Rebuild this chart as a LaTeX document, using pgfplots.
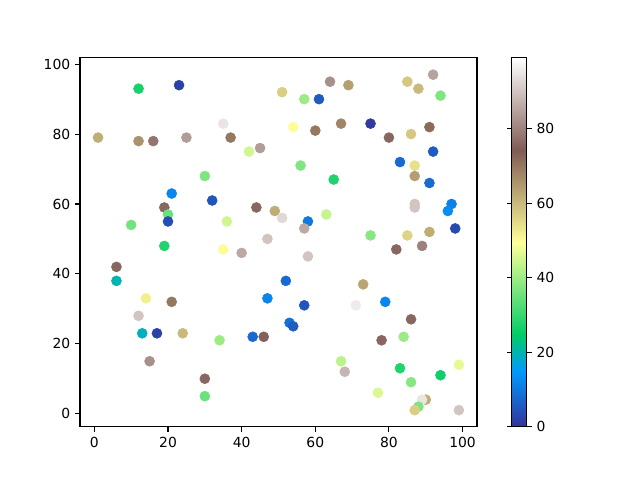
\documentclass[border=0pt]{standalone}
\usepackage{pgfplots}
\pgfplotsset{compat=1.18}
\usepackage{pgfplotstable}
\usepackage{fontspec}
\setmainfont{DejaVu Sans}
\pgfplotstableread{
x y c
1 79 62
12 93 27
23 94 2
12 78 66
16 78 78
25 79 84
35 83 95
37 79 70
42 75 45
45 76 84
30 68 37
51 92 57
57 90 40
61 90 6
64 95 82
69 94 64
54 82 50
60 81 70
67 83 68
75 83 1
80 79 76
85 95 58
88 93 60
92 97 85
94 91 37
86 80 58
91 82 72
92 75 6
83 72 8
87 71 54
87 68 64
91 66 8
56 71 37
65 67 28
21 63 12
32 61 5
19 59 76
20 57 35
20 55 4
10 54 36
44 59 76
49 58 62
51 56 93
36 55 45
19 48 28
47 50 90
35 47 50
40 46 86
6 42 76
6 38 20
14 33 52
21 32 70
47 33 12
58 55 10
57 53 86
63 57 44
58 45 90
87 60 90
87 59 90
97 60 11
96 58 13
98 53 3
75 51 38
85 51 56
91 52 62
82 47 76
89 48 80
52 38 8
73 37 63
57 31 5
71 31 96
79 32 12
12 28 90
13 23 19
17 23 2
24 23 60
34 21 40
43 22 8
46 22 75
15 15 82
30 10 76
30 5 35
53 26 9
54 25 6
86 27 76
78 21 76
84 22 40
67 15 43
68 12 88
83 13 28
94 11 26
99 14 47
86 9 38
77 6 46
90 4 62
89 4 95
88 2 37
87 1 57
99 1 90
}\datatable
\begin{document}
\begin{tikzpicture}
\useasboundingbox (0,0) rectangle (460.8pt,345.6pt);
\begin{axis}[
  at={(57.6pt,38.2pt)}, anchor=south west,
  width=285.8pt, height=265.7pt, scale only axis,
  xmin=-3.9, xmax=103.9, ymin=-3.8, ymax=101.8,
  xtick={0,20,...,100}, ytick={0,20,...,100},
  xtick pos=bottom, ytick pos=left,
  tick align=outside, major tick length=3.5pt,
  axis line style={line width=0.8pt}, tick style={line width=0.8pt, black},
  /pgf/number format/assume math mode=true,
  tick label style={font=\fontsize{10}{12}\selectfont},
  colormap={terrain}{rgb(0cm)=(0.2,0.2,0.6); rgb(15cm)=(0,0.6,1); rgb(25cm)=(0,0.8,0.4); rgb(50cm)=(1,1,0.6); rgb(75cm)=(0.5,0.36,0.33); rgb(100cm)=(1,1,1)},
  point meta min=0, point meta max=99,
  colorbar,
  colorbar style={
    at={(parent axis.north east)}, anchor=north west, xshift=16.6pt,
    width=10.8pt, height=265.7pt, scale only axis,
    ytick={0,20,...,80}, tick align=outside, major tick length=3.5pt,
    axis line style={line width=0.8pt}, tick style={line width=0.8pt, black},
    yticklabel style={font=\fontsize{10}{12}\selectfont},
    /pgf/number format/assume math mode=true,
  },
]
\addplot[scatter, only marks, mark=*, mark size=3.6pt, scatter src=explicit,
  scatter/use mapped color={draw=mapped color, fill=mapped color}]
  table[x=x, y=y, meta=c]{\datatable};
\end{axis}
\end{tikzpicture}
\end{document}
